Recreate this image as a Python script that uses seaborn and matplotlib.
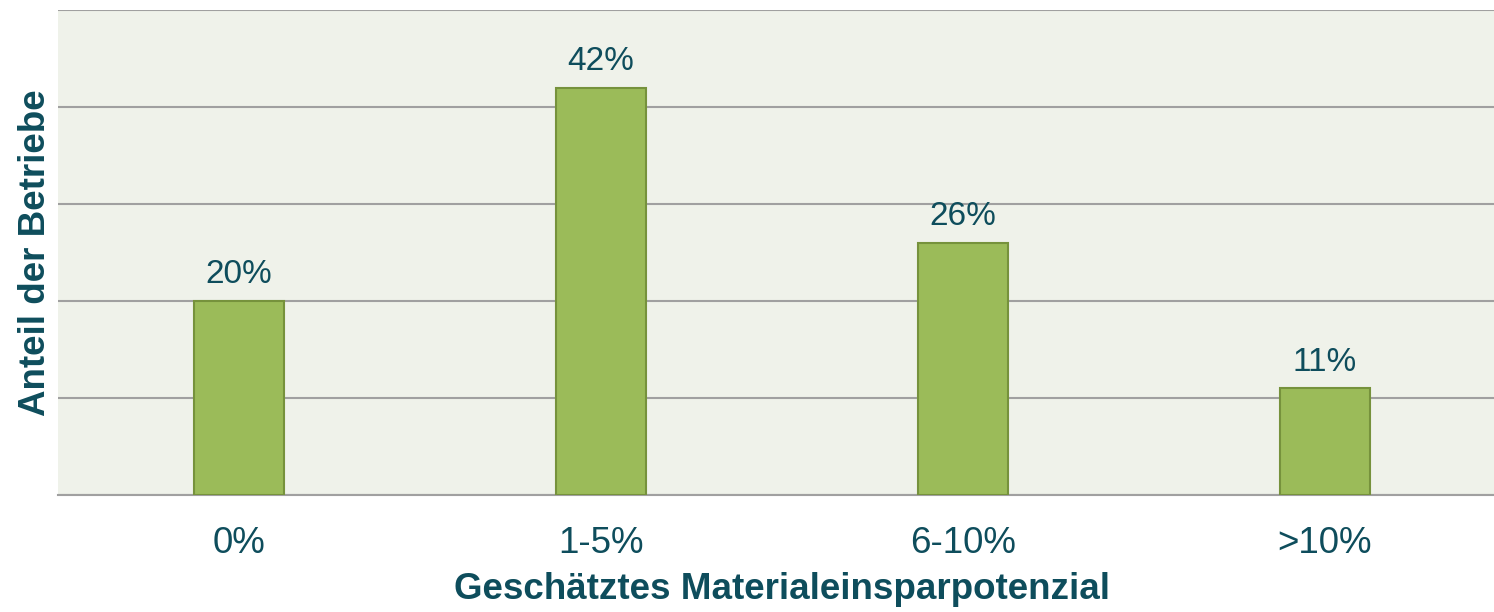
import pandas as pd
import seaborn as sns
import matplotlib.pyplot as plt

kategorien = ['0%', '1-5%', '6-10%', '>10%']
anteile = [20, 42, 26, 11]
yticks = [0, 10, 20, 30, 40, 50]

df = pd.DataFrame({'kategorie': kategorien, 'anteil': anteile})

sns.set_style('white')
plt.rcParams['font.family'] = ['Liberation Sans', 'DejaVu Sans']
textfarbe = '#0E4D5C'

fig = plt.figure(figsize=(14.94, 6.12), dpi=100)
ax = fig.add_axes([58 / 1494, 117 / 612, 1448 / 1494, 485 / 612])
ax.set_facecolor('#EFF2EA')

sns.barplot(data=df, x='kategorie', y='anteil', color='#9BBB59', width=0.25,
            edgecolor='#76923C', linewidth=1.5, saturation=1, ax=ax, zorder=3)

for i, v in enumerate(anteile):
    ax.text(i, v + 1.1, f'{v}%', ha='center', va='bottom', fontsize=24, color=textfarbe)

ax.set_ylim(0, 50)
ax.set_xlim(-0.5, 3.5)
ax.set_yticks(yticks)
ax.set_yticklabels([])
ax.yaxis.grid(True, color='#A0A0A0', linewidth=1.5, zorder=0)
ax.tick_params(axis='x', length=0, labelsize=26.5, labelcolor=textfarbe, pad=22)
ax.tick_params(axis='y', length=0)
for s in ['left', 'right', 'top']:
    ax.spines[s].set_visible(False)
ax.spines['bottom'].set_color('#A0A0A0')
ax.spines['bottom'].set_linewidth(1.5)

ax.set_xlabel('Geschätztes Materialeinsparpotenzial', fontsize=26.5, fontweight='bold',
              color=textfarbe, labelpad=8)
ax.set_ylabel('Anteil der Betriebe', fontsize=26.5, fontweight='bold', color=textfarbe, labelpad=0)

fig.savefig('out.png', dpi=100)
